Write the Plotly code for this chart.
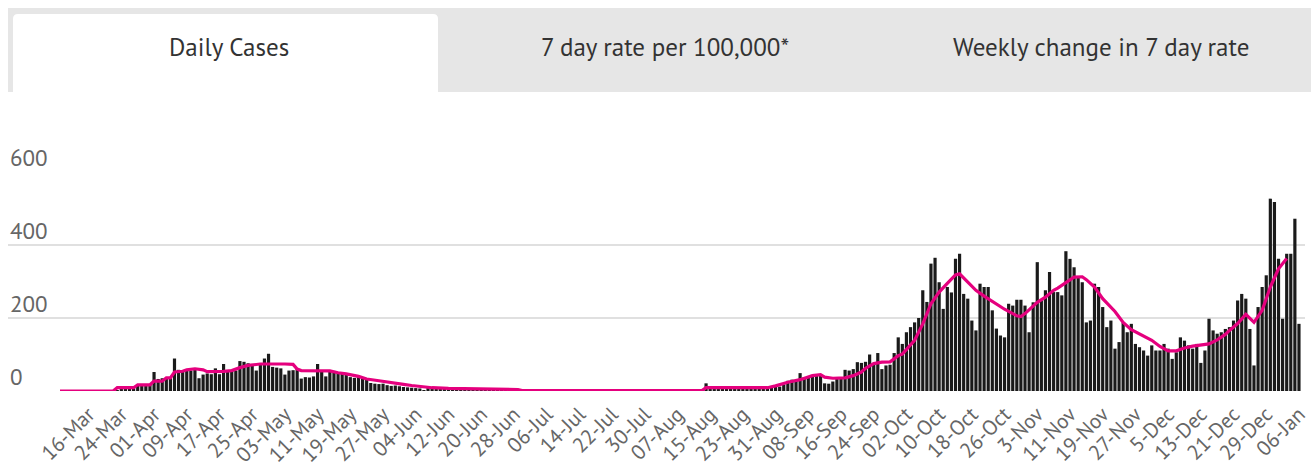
import plotly.graph_objects as go
import pandas as pd

# ---------------- data ----------------
start_date = "2020-03-09"

daily_cases = [
    0, 0, 0, 0, 0, 0, 0, 0, 0, 0,            # 0-9
    0, 0, 0, 0, 2, 3, 5, 6, 8, 14,           # 10-19
    16, 18, 17, 52, 33, 35, 33, 36, 89, 58,  # 20-29
    55, 60, 56, 58, 35, 45, 48, 46, 62, 46,  # 30-39
    74, 55, 58, 56, 82, 80, 76, 72, 56, 74,  # 40-49
    89, 102, 66, 64, 62, 45, 56, 57, 62, 34, # 50-59
    38, 37, 40, 74, 56, 40, 52, 55, 48, 50,  # 60-69
    46, 38, 36, 38, 34, 33, 22, 20, 19, 20,  # 70-79
    16, 14, 15, 13, 11, 10, 9, 8, 7, 2,      # 80-89
    8, 6, 5, 6, 4, 3, 5, 2, 4, 3,            # 90-99
    1, 5, 3, 2, 4, 3, 2, 5, 1, 3,            # 100-109
    2, 4, 3, 1, 0, 2, 0, 1, 3, 0,            # 110-119
    1, 0, 2, 4, 0, 1, 0, 1, 2, 0,            # 120-129
    0, 1, 3, 0, 1, 0, 0, 2, 1, 0,            # 130-139
    3, 0, 1, 0, 2, 0, 1, 0, 3, 0,            # 140-149
    0, 1, 0, 2, 0, 1, 4, 0, 21, 6,           # 150-159
    8, 5, 9, 7, 4, 8, 10, 6, 5, 9,           # 160-169
    7, 8, 6, 10, 10, 14, 12, 18, 28, 31,     # 170-179
    30, 49, 38, 36, 40, 42, 44, 21, 20, 26,  # 180-189
    33, 34, 58, 56, 60, 79, 77, 80, 100, 75, # 190-199
    104, 60, 70, 72, 104, 147, 129, 161, 175, 188,   # 200-209
    200, 276, 244, 349, 365, 298, 225, 285, 270, 362, # 210-219
    376, 266, 253, 193, 166, 294, 285, 285, 221, 171, # 220-229
    152, 147, 239, 234, 250, 250, 234, 161, 243, 353, # 230-239
    248, 276, 326, 271, 271, 262, 383, 362, 339, 312, # 240-249
    298, 188, 193, 294, 285, 230, 175, 193, 116, 134, # 250-259
    188, 161, 184, 129, 120, 111, 97, 125, 111, 111,  # 260-269
    129, 116, 88, 106, 147, 138, 125, 116, 129, 77,   # 270-279
    111, 198, 166, 157, 161, 170, 175, 193, 248, 266, # 280-289
    253, 170, 70, 230, 285, 317, 527, 518, 362, 198,  # 290-299
    376, 376, 472, 184,                                # 300-303
]

# 7-day average line: day index (from start_date) and value
avg_day_index = [
    0, 13, 14, 18, 19, 22, 23, 25, 26, 27, 28, 30, 31, 33, 35, 36, 40, 42, 44, 46,
    49, 52, 55, 57, 58, 59, 63, 66, 68, 70, 73, 75, 78, 81, 84, 86, 88, 91, 95, 100,
    105, 112, 113, 157, 158, 173, 175, 178, 181, 184, 186, 187, 189, 192, 194, 196,
    197, 199, 201, 203, 205, 206, 209, 211, 213, 215, 217, 219, 220, 221, 222, 224,
    226, 229, 231, 234, 235, 236, 239, 241, 243, 244, 246, 248, 250, 251, 253, 255,
    258, 260, 262, 265, 267, 269, 271, 273, 275, 277, 279, 281, 283, 285, 286, 288,
    290, 291, 292, 294, 296, 298, 300,
]
avg_values = [
    0, 0, 9, 9, 17, 17, 27, 27, 36, 36, 52, 54, 58, 61, 58, 53, 54, 56, 64, 70,
    74, 75, 74, 73, 60, 56, 56, 55, 50, 47, 40, 33, 28, 24, 18, 15, 12, 9, 7, 6,
    5, 4, 1, 1, 9, 9, 14, 24, 31, 42, 45, 38, 35, 36, 42, 52,
    62, 75, 79, 80, 97, 101, 139, 184, 239, 271, 295, 318, 321, 310, 298, 276,
    260, 239, 224, 206, 204, 212, 243, 257, 276, 282, 298, 312, 313, 305, 285, 253,
    218, 188, 168, 152, 139, 122, 110, 110, 118, 123, 125, 129, 140, 155, 166, 185,
    210, 200, 188, 221, 285, 335, 363,
]

tick_start, tick_end = "2020-03-16", "2021-01-06"
tick_labels = [
    "16-Mar", "24-Mar", "01-Apr", "09-Apr", "17-Apr", "25-Apr", "03-May", "11-May",
    "19-May", "27-May", "04-Jun", "12-Jun", "20-Jun", "28-Jun", "06-Jul", "14-Jul",
    "22-Jul", "30-Jul", "07-Aug", "15-Aug", "23-Aug", "31-Aug", "08-Sep", "16-Sep",
    "24-Sep", "02-Oct", "10-Oct", "18-Oct", "26-Oct", "3-Nov", "11-Nov", "19-Nov",
    "27-Nov", "5-Dec", "13-Dec", "21-Dec", "29-Dec", "06-Jan",
]
y_ticks = [0, 200, 400, 600]
tab_titles = ["Daily Cases", "7 day rate per 100,000*", "Weekly change in 7 day rate"]

# ---------------- layout geometry ----------------
W, H = 1311, 473
ML, MR, MT, MB = 8, 6, 172, 82
PW, PH = W - ML - MR, H - MT - MB
FIRST_PX, DAY_PX = 60, 4.089
FONT = "PT Sans, Roboto, sans-serif"


def pxx(p):
    return (p - ML) / PW


def pxy(p):
    return (H - MB - p) / PH


dates = pd.date_range(start_date, periods=len(daily_cases), freq="D")
avg_dates = [dates[k] for k in avg_day_index]
tick_vals = [d.strftime("%Y-%m-%d") for d in pd.date_range(tick_start, tick_end, freq="8D")]

x_lo = dates[0] + pd.Timedelta(days=(ML - FIRST_PX) / DAY_PX)
x_hi = dates[0] + pd.Timedelta(days=(W - MR - FIRST_PX) / DAY_PX)

fig = go.Figure()
fig.add_trace(go.Bar(x=dates, y=daily_cases, marker=dict(color="#1a1a1a", line=dict(width=0)),
                     name="Daily cases", hoverinfo="x+y"))
fig.add_trace(go.Scatter(x=avg_dates, y=avg_values, mode="lines",
                         line=dict(color="#e5007e", width=3.2), name="7 day average"))

# tab strip
shapes = [
    dict(type="rect", xref="paper", yref="paper", x0=pxx(8), x1=pxx(W), y0=pxy(92), y1=pxy(8),
         fillcolor="#e6e6e6", line=dict(width=0), layer="above"),
]
pts = [(13, 92), (13, 19), (13, 14), (18, 14), (433, 14), (438, 14), (438, 19), (438, 92)]
P = [(pxx(a), pxy(b)) for a, b in pts]
path = (f"M {P[0][0]},{P[0][1]} L {P[1][0]},{P[1][1]} Q {P[2][0]},{P[2][1]} {P[3][0]},{P[3][1]} "
        f"L {P[4][0]},{P[4][1]} Q {P[5][0]},{P[5][1]} {P[6][0]},{P[6][1]} L {P[7][0]},{P[7][1]} Z")
shapes.append(dict(type="path", xref="paper", yref="paper", path=path,
                   fillcolor="#ffffff", line=dict(width=0), layer="above"))

annotations = []
for title, cx in zip(tab_titles, [229, 665, 1101]):
    annotations.append(dict(text=title, xref="paper", yref="paper", x=pxx(cx), y=pxy(47),
                            xanchor="center", yanchor="middle", showarrow=False,
                            font=dict(family=FONT, size=25, color="#333333")))
for v in y_ticks:
    annotations.append(dict(text=str(v), xref="paper", yref="y", x=0, y=v, xanchor="left",
                            yanchor="middle", yshift=15, showarrow=False,
                            font=dict(family=FONT, size=23, color="#666666")))

fig.update_layout(
    width=W, height=H,
    margin=dict(l=ML, r=MR, t=MT, b=MB, pad=0, autoexpand=False),
    paper_bgcolor="#ffffff", plot_bgcolor="#ffffff",
    showlegend=False, bargap=0.22,
    font=dict(family=FONT, color="#666666"),
    shapes=shapes, annotations=annotations,
    xaxis=dict(type="date", range=[x_lo.strftime("%Y-%m-%d %H:%M:%S"), x_hi.strftime("%Y-%m-%d %H:%M:%S")],
               tickmode="array", tickvals=tick_vals, ticktext=tick_labels, tickangle=-45,
               tickfont=dict(family=FONT, size=21, color="#666666"),
               ticklabelstandoff=6, automargin=False,
               showgrid=False, zeroline=False, showline=False, ticks=""),
    yaxis=dict(range=[0, 600], tickmode="array", tickvals=y_ticks, showticklabels=False,
               automargin=False,
               showgrid=True, gridcolor="#e0e0e0", gridwidth=2, zeroline=False, showline=False),
)

fig.write_html("out.html", config={"displayModeBar": False},
               post_script="document.body.style.margin='0px';")
